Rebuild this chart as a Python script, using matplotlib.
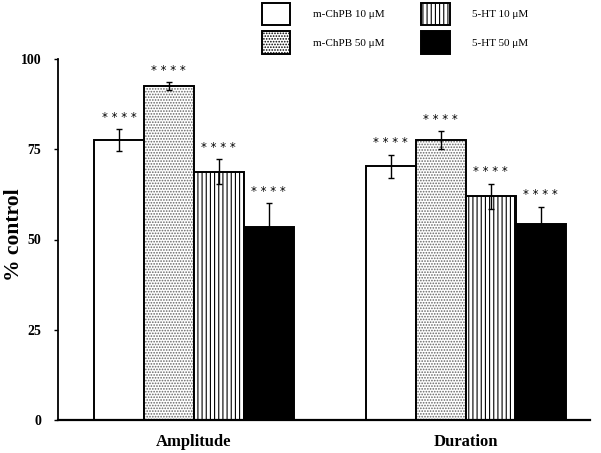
import matplotlib.pyplot as plt
import numpy as np

plt.rcParams["font.family"] = ["Liberation Serif", "DejaVu Serif"]
plt.rcParams["hatch.linewidth"] = 0.8

# data
groups = ["Amplitude", "Duration"]
labels = ["m-ChPB 10 \u03bcM", "m-ChPB 50 \u03bcM", "5-HT 10 \u03bcM", "5-HT 50 \u03bcM"]
means = [
    [77.5, 92.5, 68.8, 53.5],
    [70.3, 77.5, 62.0, 54.3],
]
errs = [
    [3.0, 1.0, 3.5, 6.5],
    [3.2, 2.5, 3.5, 4.8],
]

faces = ["white", "white", "white", "black"]
hatches = [None, "......", "||||", None]
hatch_cols = ["black", "#666666", "black", "black"]
group_pos = [0.0, 5.45]

fig = plt.figure(figsize=(6.01, 4.53), dpi=100)
ax = fig.add_axes([58 / 601, 33 / 453, 532 / 601, 361 / 453])

handles = []
for i in range(4):
    xs = [g + i for g in group_pos]
    ys = [means[0][i], means[1][i]]
    es = [errs[0][i], errs[1][i]]
    # fill with hatch in its own colour, then outline in black
    ax.bar(xs, ys, width=1.0, color=faces[i], edgecolor=hatch_cols[i],
           linewidth=0, hatch=hatches[i])
    ax.bar(xs, ys, width=1.0, fill=False, edgecolor="black", linewidth=1.4)
    h = plt.Rectangle((0, 0), 1, 1, facecolor=faces[i], edgecolor="black",
                      linewidth=1.4, hatch=hatches[i])
    handles.append(h)
    ax.errorbar(xs, ys, yerr=es, fmt="none", ecolor="black",
                elinewidth=1.0, capsize=2, capthick=1.0)
    for x, y, e in zip(xs, ys, es):
        ax.text(x, y + e + 1.5, "* * * *", ha="center", va="bottom",
                fontsize=8.5, family="DejaVu Sans")

ax.set_xlim(-1.22, 9.44)
ax.set_ylim(0, 100)
ax.set_yticks([0, 25, 50, 75, 100])
ax.set_yticklabels(["0", "25", "50", "75", "100"], fontweight="bold", fontsize=10)
ax.set_xticks([g + 1.5 for g in group_pos])
ax.set_xticklabels(groups, fontweight="bold", fontsize=12)
ax.tick_params(axis="x", length=0, pad=10)
ax.tick_params(axis="y", direction="out", length=3, width=1, pad=9)
ax.spines["top"].set_visible(False)
ax.spines["right"].set_visible(False)
ax.spines["left"].set_linewidth(1.3)
ax.spines["bottom"].set_linewidth(1.6)

fig.text(14 / 601, (453 - 235) / 453, "% control", rotation=90,
         ha="center", va="center", fontweight="bold", fontsize=15.5)

fig.legend(handles=handles, labels=labels, ncol=2, loc="upper left",
           bbox_to_anchor=(256 / 601, 1.0 + 3 / 453), frameon=False, fontsize=8,
           handlelength=2.6, handleheight=2.7, labelspacing=0.6,
           handletextpad=2.0, columnspacing=3.3, borderpad=0.0)

fig.savefig("out.png", dpi=100)
